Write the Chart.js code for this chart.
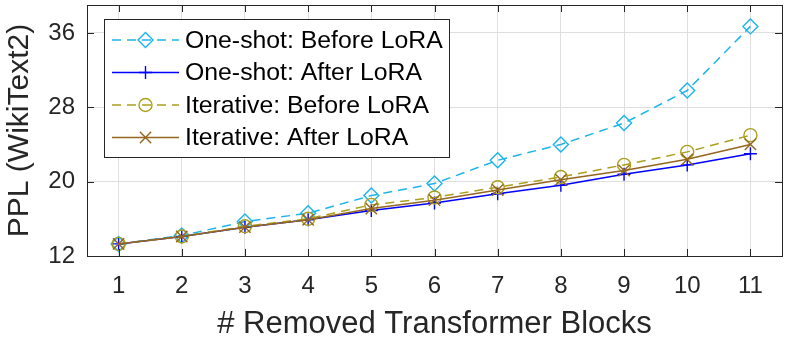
<!DOCTYPE html>
<html>
<head>
<meta charset="utf-8">
<script src="https://cdn.jsdelivr.net/npm/chart.js@4.4.1/dist/chart.umd.min.js"></script>
<style>
  html, body { margin: 0; padding: 0; background: #fff; }
  #wrap { width: 790px; height: 346px; }
</style>
</head>
<body>
<div id="wrap"><canvas id="pplChart" width="790" height="346"></canvas></div>
<script>
// values
const blocks = [1, 2, 3, 4, 5, 6, 7, 8, 9, 10, 11];
const oneShotBefore = [13.3, 14.2, 15.7, 16.6, 18.5, 19.8, 22.3, 24.0, 26.3, 29.8, 36.7];
const oneShotAfter = [13.3, 14.1, 15.1, 15.9, 16.9, 17.7, 18.7, 19.6, 20.8, 21.8, 23.0];
const iterBefore = [13.3, 14.1, 15.2, 16.0, 17.5, 18.3, 19.4, 20.5, 21.8, 23.2, 25.0];
const iterAfter = [13.3, 14.1, 15.1, 15.9, 17.1, 18.0, 19.1, 20.2, 21.2, 22.4, 24.0];
const xTicks = [1, 2, 3, 4, 5, 6, 7, 8, 9, 10, 11];
const yTicks = [12, 20, 28, 36];

const FONT = "'Liberation Sans', Arial, sans-serif";
const INK = '#262626';

function pts(vals) {
    return vals.map((v, i) => ({ x: blocks[i], y: v }));
}

function series(label, vals, color, dash, marker, size, order) {
    return {
        label: label,
        data: pts(vals),
        borderColor: color,
        borderWidth: 1.5,
        borderDash: dash,
        pointStyle: marker,
        pointRadius: size,
        pointHoverRadius: size,
        pointBorderColor: color,
        pointBackgroundColor: 'rgba(0,0,0,0)',
        pointBorderWidth: 1.4,
        tension: 0,
        fill: false,
        order: order
    };
}

function drawMarker(ctx, style, x, y, r) {
    ctx.beginPath();
    if (style === 'rectRot') {
        ctx.moveTo(x - r, y); ctx.lineTo(x, y - r);
        ctx.lineTo(x + r, y); ctx.lineTo(x, y + r);
        ctx.closePath();
    } else if (style === 'cross') {
        ctx.moveTo(x - r, y); ctx.lineTo(x + r, y);
        ctx.moveTo(x, y - r); ctx.lineTo(x, y + r);
    } else if (style === 'crossRot') {
        const d = r * Math.SQRT1_2;
        ctx.moveTo(x - d, y - d); ctx.lineTo(x + d, y + d);
        ctx.moveTo(x - d, y + d); ctx.lineTo(x + d, y - d);
    } else {
        ctx.arc(x, y, r, 0, Math.PI * 2);
    }
    ctx.stroke();
}

const framePlugin = {
    id: 'frame',
    afterDatasetsDraw(chart) {
        const ctx = chart.ctx;
        const a = chart.chartArea;
        const xs = chart.scales.x, ys = chart.scales.y;
        const tl = 7;
        ctx.save();
        ctx.strokeStyle = INK;
        ctx.lineWidth = 1;
        ctx.beginPath();
        xTicks.forEach(v => {
            const px = Math.round(xs.getPixelForValue(v)) + 0.5;
            ctx.moveTo(px, a.bottom); ctx.lineTo(px, a.bottom - tl);
            ctx.moveTo(px, a.top); ctx.lineTo(px, a.top + tl);
        });
        yTicks.forEach(v => {
            const py = Math.round(ys.getPixelForValue(v)) + 0.5;
            ctx.moveTo(a.left, py); ctx.lineTo(a.left + tl, py);
            ctx.moveTo(a.right, py); ctx.lineTo(a.right - tl, py);
        });
        ctx.stroke();
        ctx.strokeRect(Math.round(a.left) + 0.5, Math.round(a.top) + 0.5,
            Math.round(a.right - a.left), Math.round(a.bottom - a.top));
        ctx.restore();
    },
    afterDraw(chart) {
        // legend box, top-left inside the axes
        const ctx = chart.ctx;
        const bx = 104.5, by = 19.5, bw = 345, bh = 138;
        const rows = [40, 72.5, 105, 137.5];
        ctx.save();
        ctx.fillStyle = '#fff';
        ctx.fillRect(bx, by, bw, bh);
        ctx.strokeStyle = INK;
        ctx.lineWidth = 1;
        ctx.strokeRect(bx, by, bw, bh);
        chart.data.datasets.forEach((ds, i) => {
            const y = rows[i];
            ctx.strokeStyle = ds.borderColor;
            ctx.lineWidth = ds.borderWidth;
            ctx.setLineDash(ds.borderDash || []);
            ctx.beginPath();
            ctx.moveTo(112, y); ctx.lineTo(179, y);
            ctx.stroke();
            ctx.setLineDash([]);
            ctx.lineWidth = ds.pointBorderWidth;
            drawMarker(ctx, ds.pointStyle, 145.5, y, ds.pointRadius);
            ctx.fillStyle = '#000';
            ctx.font = '24.8px ' + FONT;
            ctx.textAlign = 'left';
            ctx.textBaseline = 'middle';
            ctx.fillText(ds.label, 185, y + 1);
        });
        ctx.restore();
    }
};

const chart = new Chart(document.getElementById('pplChart').getContext('2d'), {
    type: 'line',
    data: {
        datasets: [
            series('One-shot: Before LoRA', oneShotBefore, '#1cb4ec', [9, 6], 'rectRot', 7.5, 4),
            series('One-shot: After LoRA', oneShotAfter, '#0000ff', [], 'cross', 6.5, 3),
            series('Iterative: Before LoRA', iterBefore, '#aaa01e', [9, 6], 'circle', 6.5, 2),
            series('Iterative: After LoRA', iterAfter, '#94661e', [], 'crossRot', 8, 1)
        ]
    },
    options: {
        responsive: false,
        animation: false,
        events: [],
        layout: { autoPadding: false, padding: { left: 0, right: 8, top: 5, bottom: 0 } },
        plugins: {
            legend: { display: false },
            tooltip: { enabled: false }
        },
        scales: {
            x: {
                type: 'linear',
                min: 0.5,
                max: 11.5,
                afterBuildTicks: s => { s.ticks = xTicks.map(v => ({ value: v })); },
                afterFit: s => { s.height = 90; s.paddingLeft = 0; s.paddingRight = 0; },
                grid: { color: '#dfdfdf', drawTicks: false },
                border: { display: false },
                ticks: { color: INK, font: { family: FONT, size: 24 }, padding: 16, autoSkip: false, maxRotation: 0 },
                title: {
                    display: true,
                    text: '# Removed Transformer Blocks',
                    color: INK,
                    font: { family: FONT, size: 31 },
                    padding: { top: 0, bottom: 3 }
                }
            },
            y: {
                min: 12,
                max: 39,
                afterBuildTicks: s => { s.ticks = yTicks.map(v => ({ value: v })); },
                afterFit: s => { s.width = 87; s.paddingTop = 0; s.paddingBottom = 0; },
                grid: { color: '#dfdfdf', drawTicks: false },
                border: { display: false },
                ticks: { color: INK, font: { family: FONT, size: 24 }, padding: 12 },
                title: {
                    display: true,
                    text: 'PPL (WikiText2)',
                    color: INK,
                    font: { family: FONT, size: 30 },
                    padding: { top: 2, bottom: 0 }
                }
            }
        }
    },
    plugins: [framePlugin]
});
</script>
</body>
</html>
